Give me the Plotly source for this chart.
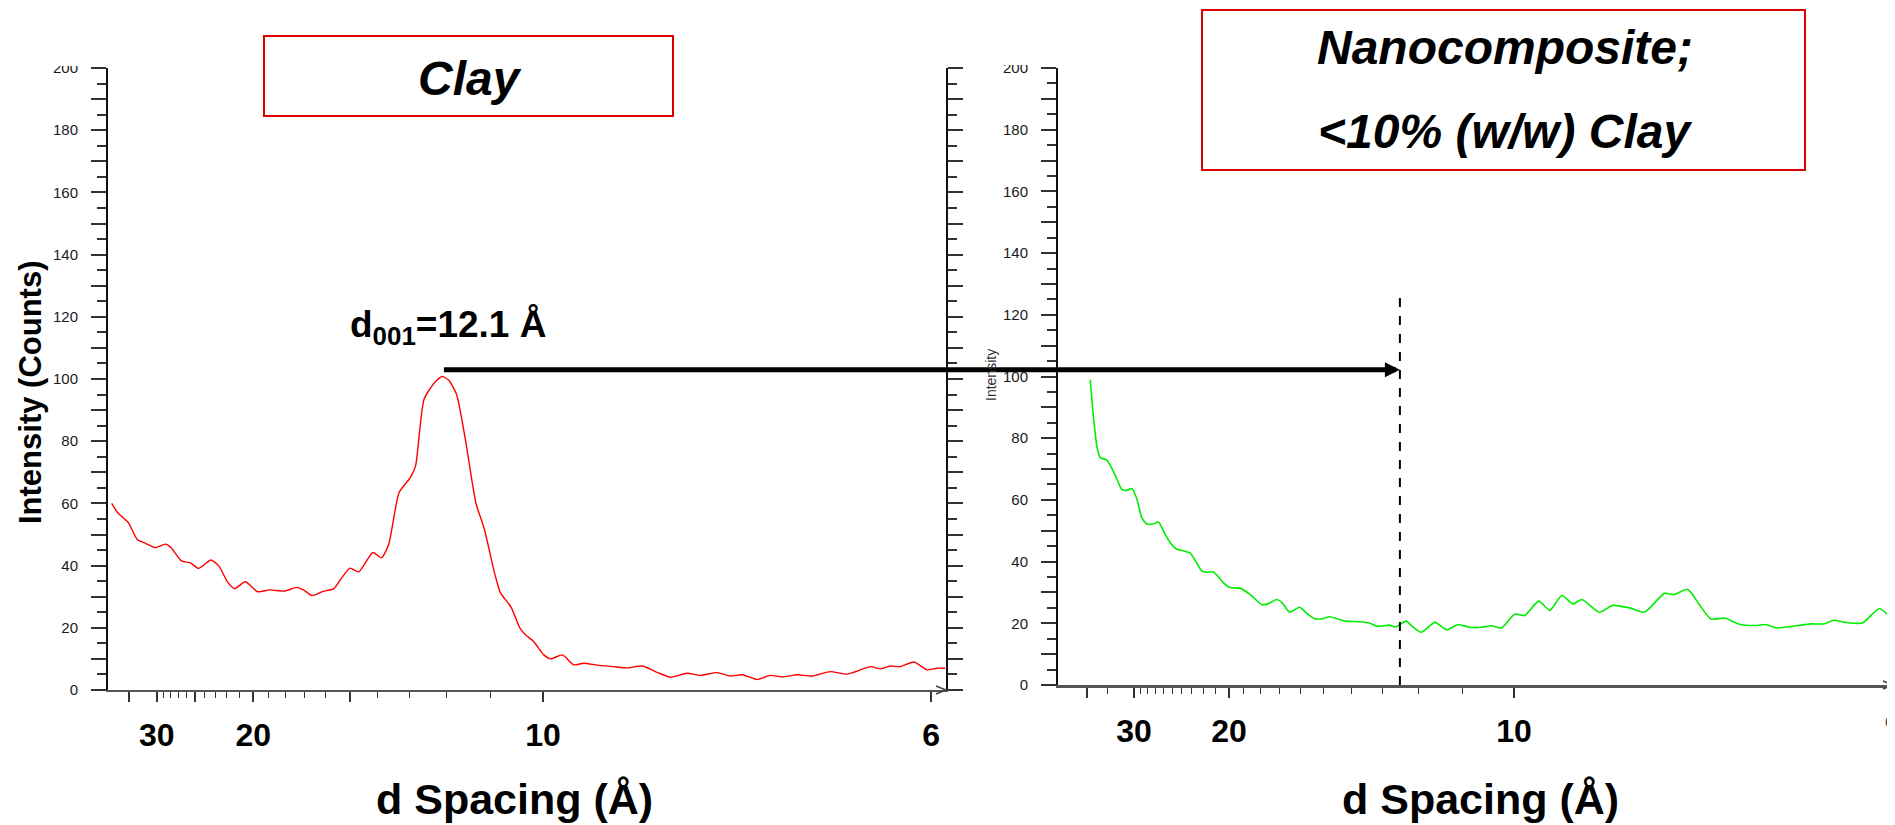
import math
import plotly.graph_objects as go

WAVELENGTH = 1.5406  # Cu K-alpha (Å), used to place d-spacing ticks on the 2-theta axis

# ---- Clay (left panel), x = 2-theta (deg), y = counts ----
clay_2theta = [2.256, 2.348, 2.51, 2.646, 2.78, 2.916, 3.08, 3.16, 3.32, 3.456, 3.58, 3.77, 3.89,
               4.024, 4.13, 4.295, 4.48, 4.67, 4.89, 5.08, 5.18, 5.31, 5.48, 5.646, 5.75, 5.89,
               6.024, 6.24, 6.37, 6.48, 6.64, 6.81, 6.89, 7.02, 7.187, 7.30, 7.40, 7.516, 7.65,
               7.81, 7.94, 8.1, 8.185, 8.35, 8.48, 8.57, 8.69, 8.846, 8.95, 9.13, 9.30, 9.456,
               9.66, 9.91, 10.12, 10.35, 10.58, 10.78, 11.03, 11.24, 11.49, 11.69, 11.87, 12.10,
               12.3, 12.48, 12.71, 12.94, 13.22, 13.47, 13.83, 13.98, 14.13, 14.28, 14.49, 14.69,
               14.84, 14.97]
clay_counts = [60.0, 57.0, 53.8, 48.4, 47.1, 45.8, 46.9, 45.8, 41.5, 40.9, 39.1, 41.8, 39.9,
               34.7, 32.6, 34.8, 31.6, 32.2, 31.8, 33.0, 32.2, 30.4, 31.7, 32.6, 35.6, 39.2,
               38.0, 44.2, 42.5, 46.8, 63.5, 68.3, 72.0, 93.5, 99.0, 100.8, 99.5, 95.0, 80.6,
               60.2, 51.7, 37.2, 31.3, 26.5, 20.0, 17.7, 15.6, 11.3, 10.0, 11.3, 8.1, 8.6,
               8.0, 7.5, 7.1, 7.7, 5.6, 4.1, 5.4, 4.7, 5.6, 4.5, 4.9, 3.4,
               4.7, 4.2, 4.9, 4.5, 5.9, 5.1, 7.5, 6.8, 7.7, 7.5, 9.0, 6.5,
               7.0, 7.0]

# ---- Nanocomposite (right panel) ----
nano_2theta = [2.262, 2.314, 2.366, 2.417, 2.52, 2.65, 2.752, 2.83, 2.907, 2.984, 3.06, 3.14,
               3.24, 3.32, 3.42, 3.5, 3.6, 3.706, 3.81, 3.91, 3.99, 4.07, 4.17, 4.325, 4.43,
               4.58, 4.74, 4.92, 5.02, 5.15, 5.23, 5.356, 5.51, 5.61, 5.743, 5.87, 5.974, 6.1,
               6.23, 6.44, 6.59, 6.72, 6.9, 7.0, 7.16, 7.26, 7.4, 7.61, 7.79, 7.97, 8.15, 8.33,
               8.485, 8.64, 8.85, 9.0, 9.22, 9.39, 9.58, 9.75, 9.89, 10.16, 10.37, 10.63, 10.86,
               11.17, 11.32, 11.53, 11.71, 11.89, 12.1, 12.35, 12.61, 12.74, 12.92, 13.15, 13.44,
               13.64, 13.8, 13.98, 14.24, 14.5, 14.69]
nano_counts = [99.0, 86.5, 77.3, 73.7, 72.9, 68.0, 63.4, 63.1, 63.7, 60.4, 54.4, 52.2,
               52.2, 52.8, 49.0, 46.2, 44.1, 43.5, 42.8, 39.7, 37.0, 36.5, 36.7, 33.2, 31.6,
               31.4, 29.4, 26.1, 26.3, 27.7, 26.9, 23.6, 25.2, 23.4, 21.5, 21.5, 22.1, 21.4,
               20.7, 20.5, 20.1, 19.0, 19.4, 18.8, 20.7, 19.0, 17.1, 20.3, 17.9, 19.6, 18.7, 18.7,
               19.2, 18.5, 23.0, 22.5, 27.2, 24.2, 29.0, 26.3, 27.7, 23.6, 25.8, 25.0, 23.6,
               29.7, 29.3, 31.0, 26.1, 21.4, 21.7, 19.6, 19.3, 19.6, 18.5, 19.0, 19.8,
               19.8, 21.0, 20.3, 20.1, 24.7, 21.7]

# ---- Tick definitions (d spacing, Å) ----
left_major_d = [35, 30, 25, 20, 15, 10, 6]
left_major_text = ["", "30", "", "20", "", "10", "6"]
left_minor_d = [29, 28, 27, 26, 24, 23, 22, 21, 19, 18, 17, 16, 14, 13, 12, 11]
right_major_d = [40, 30, 20, 10, 6]
right_major_text = ["", "30", "20", "10", ""]
right_minor_d = [35, 29, 28, 27, 26, 25, 24, 23, 22, 21, 19, 18, 17, 16, 15, 14, 13, 12, 11]
y_tickvals = list(range(0, 201, 10))
y_ticktext = [str(v) if v % 20 == 0 else "" for v in y_tickvals]

peak_d = 12.1          # d001 of clay
marker_d = 12.5        # dashed reference line in nanocomposite panel
arrow_counts = 103.0
marker_top = 127.0

FONT = "Liberation Sans, Arial, Helvetica, sans-serif"
# the page body adds an 8px margin, so the figure is 8px smaller than the window
OFF = 8
FW, FH = 1895 - OFF, 825 - OFF


def px(x):
    return (x - OFF) / FW


def py(y):
    return 1 - (y - OFF) / FH


def tt(d):
    return 2 * math.degrees(math.asin(WAVELENGTH / (2 * d)))


# axis layout (domains in paper fraction, ranges in 2-theta)
L_DOM = [px(108), px(946)]
R_DOM = [px(1058), px(1893)]
L_YDOM = [py(690), py(68)]
R_YDOM = [py(685), py(68)]
L_RANGE = [2.2, 14.98]
R_RANGE = [1.762, 14.716]


def to_paper(v, dom, rng):
    return dom[0] + (v - rng[0]) / (rng[1] - rng[0]) * (dom[1] - dom[0])


fig = go.Figure()
fig.add_trace(go.Scatter(x=clay_2theta, y=clay_counts, mode="lines",
                         line=dict(color="#ff0000", width=1.4, shape="spline", smoothing=0.6),
                         xaxis="x", yaxis="y", showlegend=False, hoverinfo="skip"))
fig.add_trace(go.Scatter(x=nano_2theta, y=nano_counts, mode="lines",
                         line=dict(color="#00ee00", width=1.6, shape="spline", smoothing=0.6),
                         xaxis="x2", yaxis="y2", showlegend=False, hoverinfo="skip"))

tick_font = dict(family=FONT, size=15, color="#1a1a1a")
xtick_font = dict(family=FONT, size=32, color="black", weight="bold")


def yaxis(dom, anchor):
    return dict(domain=dom, anchor=anchor, range=[0, 200], tickmode="array",
                tickvals=y_tickvals, ticktext=y_ticktext, ticks="outside", ticklen=15,
                tickwidth=1.5, tickcolor="#333", tickfont=tick_font, ticklabelstandoff=10,
                showline=True, linecolor="#111", linewidth=2, mirror="ticks",
                showgrid=False, zeroline=False, automargin=False,
                minor=dict(dtick=5, tick0=0, ticks="outside", ticklen=9, tickcolor="#333",
                           tickwidth=1.5))


def xaxis(dom, anchor, rng, major_d, major_text, minor_d, lw):
    return dict(domain=dom, anchor=anchor, range=rng, tickmode="array",
                tickvals=[tt(d) for d in major_d], ticktext=major_text,
                ticks="outside", ticklen=10, tickwidth=1.5, tickcolor="#333",
                tickfont=xtick_font, ticklabelstandoff=6,
                showline=True, linecolor="#555", linewidth=lw,
                showgrid=False, zeroline=False, tickangle=0, automargin=False,
                minor=dict(tickmode="array", tickvals=[tt(d) for d in minor_d],
                           ticks="outside", ticklen=6, tickcolor="#333", tickwidth=1))


fig.update_layout(
    width=FW, height=FH, margin=dict(l=0, r=0, t=0, b=0, pad=0, autoexpand=False),
    paper_bgcolor="white", plot_bgcolor="white",
    font=dict(family=FONT), showlegend=False,
    xaxis=xaxis(L_DOM, "y", L_RANGE, left_major_d, left_major_text, left_minor_d, 2),
    yaxis=yaxis(L_YDOM, "x"),
    xaxis2=xaxis(R_DOM, "y2", R_RANGE, right_major_d, right_major_text, right_minor_d, 3),
    yaxis2=yaxis(R_YDOM, "x2"),
)

shapes = []
# dashed reference line in nanocomposite panel
shapes.append(dict(type="line", xref="x2", yref="y2", x0=tt(marker_d), x1=tt(marker_d),
                   y0=0, y1=marker_top, line=dict(color="black", width=2, dash="dash")))
# title boxes
shapes.append(dict(type="rect", xref="paper", yref="paper", x0=px(264), x1=px(673),
                   y0=py(116), y1=py(36), line=dict(color="#dd0000", width=2),
                   fillcolor="white", layer="below"))
shapes.append(dict(type="rect", xref="paper", yref="paper", x0=px(1202), x1=px(1805),
                   y0=py(170), y1=py(10), line=dict(color="#dd0000", width=2),
                   fillcolor="white", layer="below"))
# white masks clipping the top "200" labels
shapes.append(dict(type="rect", xref="paper", yref="paper", x0=px(40), x1=px(100),
                   y0=py(66), y1=1, line=dict(width=0), fillcolor="white", layer="above"))
shapes.append(dict(type="rect", xref="paper", yref="paper", x0=px(1000), x1=px(1050),
                   y0=py(65), y1=1, line=dict(width=0), fillcolor="white", layer="above"))
# open arrow tips at the end of each x axis
for xr, yr, dx, dy in [("x domain", "y domain", 10 / 838, 4 / 622),
                       ("x2 domain", "y2 domain", 10 / 835, 4 / 617)]:
    shapes.append(dict(type="path", xref=xr, yref=yr,
                       path=f"M {1 - dx},{dy} L 1,0 L {1 - dx},{-dy}",
                       line=dict(color="#444", width=1.5)))
fig.update_layout(shapes=shapes)


def label(x, y, text, size, color="black", angle=0, xanchor="center"):
    return dict(xref="paper", yref="paper", x=x, y=y, xanchor=xanchor, yanchor="middle",
                showarrow=False, textangle=angle, text=text,
                font=dict(family=FONT, size=size, color=color))


ann = []
# long arrow from clay d001 peak to nanocomposite panel
y_arrow = to_paper(arrow_counts, L_YDOM, [0, 200])
x_tail = to_paper(tt(peak_d), L_DOM, L_RANGE)
x_tip = to_paper(tt(marker_d), R_DOM, R_RANGE)
ann.append(dict(xref="paper", yref="paper", axref="pixel", ayref="pixel",
                x=x_tip, y=y_arrow, ax=-(x_tip - x_tail) * FW, ay=0, text="", showarrow=True,
                arrowhead=2, arrowsize=0.6, arrowwidth=5, arrowcolor="black", standoff=0,
                startstandoff=0))
ann.append(label(px(348), py(327), f"<b>d<sub>001</sub>={peak_d} Å</b>", 37,
                 xanchor="left"))
# panel titles
ann.append(label(px(470), py(78), "<b><i>Clay</i></b>", 48))
ann.append(label(px(1505), py(47), "<b><i>Nanocomposite;</i></b>", 48))
ann.append(label(px(1505), py(131), "<b><i>&lt;10% (w/w) Clay</i></b>", 48))
# axis titles
ann.append(label(px(31), py(392), "<b>Intensity (Counts)</b>", 31, angle=-90))
ann.append(label(px(991), py(375), "Intensity", 14, color="#333", angle=-90))
ann.append(label(px(514), py(799), "<b>d Spacing (Å)</b>", 43))
ann.append(label(px(1480), py(799), "<b>d Spacing (Å)</b>", 43))
# small clipped "6" at the far right end of the nanocomposite axis
ann.append(label(px(1889), py(722), "6", 14, color="#333"))
fig.update_layout(annotations=ann)

fig.write_html("out.html")
